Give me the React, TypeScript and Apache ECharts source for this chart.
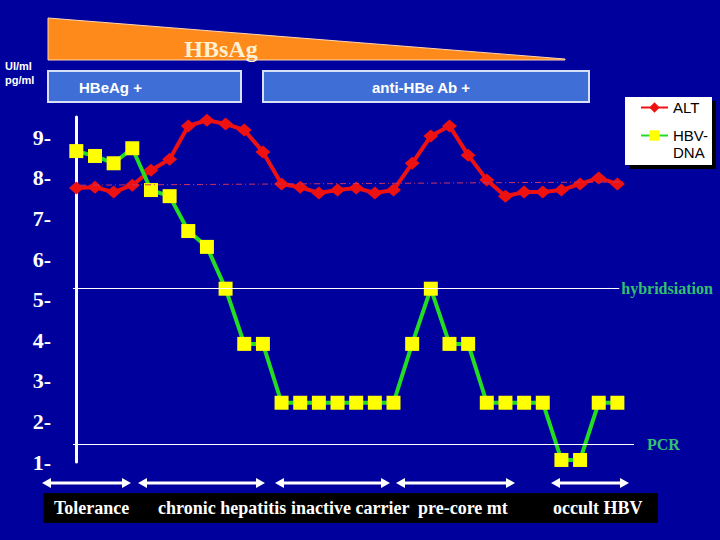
import React, { useEffect, useRef } from "react";
import * as echarts from "echarts";

// ---- data ----
const timepoints = [0, 1, 2, 3, 4, 5, 6, 7, 8, 9, 10, 11, 12, 13, 14, 15, 16, 17, 18, 19, 20, 21, 22, 23, 24, 25, 26, 27, 28, 29];
const altValues = [7.75, 7.77, 7.65, 7.82, 8.19, 8.46, 9.28, 9.42, 9.33, 9.18, 8.64, 7.85, 7.77, 7.63, 7.7, 7.75, 7.63, 7.7, 8.36, 9.03, 9.28, 8.56, 7.95, 7.55, 7.65, 7.65, 7.7, 7.85, 8.0, 7.85];
const hbvValues = [8.66, 8.54, 8.36, 8.73, 7.7, 7.55, 6.69, 6.3, 5.27, 3.91, 3.91, 2.46, 2.46, 2.46, 2.46, 2.46, 2.46, 2.46, 3.91, 5.27, 3.91, 3.91, 2.46, 2.46, 2.46, 2.46, 1.05, 1.05, 2.46, 2.46];
const seriesNames = ["ALT", "HBV-DNA"];
const hybridisationLimit = 5.27;
const pcrLimit = 1.44;
const altBaseline = [7.82, 7.9];
const phaseLabels = ["Tolerance", "chronic hepatitis", "inactive carrier", "pre-core mt", "occult HBV"];
const unitLabels = ["UI/ml", "pg/ml"];
const markerLabels = ["HBeAg +", "anti-HBe Ab +"];
const antigenLabel = "HBsAg";

const BG = "#00009c";

export default function App() {
  const ref = useRef<HTMLDivElement>(null);
  useEffect(() => {
    if (!ref.current) return;
    const chart = echarts.init(ref.current, null, { renderer: "svg" });

    const arrowSpans = [
      [42, 131],
      [138, 265],
      [275, 390],
      [396, 515],
      [551, 629],
    ];
    const phaseX = [54, 158, 291, 418, 553];
    const arrowY = 483;
    const arrows: any[] = [];
    arrowSpans.forEach(([a, b]) => {
      arrows.push({
        type: "line",
        shape: { x1: a + 6, y1: arrowY, x2: b - 6, y2: arrowY },
        style: { stroke: "#ffffff", lineWidth: 3 },
      });
      arrows.push({
        type: "polygon",
        shape: { points: [[a, arrowY], [a + 9, arrowY - 5], [a + 9, arrowY + 5]] },
        style: { fill: "#ffffff" },
      });
      arrows.push({
        type: "polygon",
        shape: { points: [[b, arrowY], [b - 9, arrowY - 5], [b - 9, arrowY + 5]] },
        style: { fill: "#ffffff" },
      });
    });

    const legendText = { color: "#000000", fontFamily: "Liberation Sans", fontSize: 15, lineHeight: 17 };

    const option: any = {
      animation: false,
      backgroundColor: BG,
      grid: { left: 67, right: 86, top: 117, bottom: 78 },
      xAxis: {
        type: "value",
        min: -0.5,
        max: 29.89,
        show: false,
      },
      yAxis: {
        type: "value",
        min: 1,
        max: 9.5,
        interval: 1,
        axisLine: { show: true, lineStyle: { color: "#ffffff", width: 3 } },
        axisTick: { show: false },
        splitLine: { show: false },
        axisLabel: {
          color: "#ffffff",
          fontFamily: "Liberation Serif",
          fontWeight: "bold",
          fontSize: 22,
          margin: 16,
          formatter: (v: number) => (v > 9 ? "" : v + "-"),
        },
      },
      legend: [
        {
          orient: "vertical",
          left: 640,
          top: 100,
          padding: 0,
          itemWidth: 27,
          itemHeight: 13,
          textStyle: { ...legendText, lineHeight: 14 },
          data: [{ name: seriesNames[0] }],
        },
        {
          orient: "vertical",
          left: 640,
          top: 110,
          padding: 0,
          itemWidth: 27,
          itemHeight: 13,
          textStyle: legendText,
          formatter: (n: string) => (n === "HBV-DNA" ? " \nHBV-\nDNA" : n),
          data: [{ name: seriesNames[1] }],
        },
      ],
      series: [
        {
          name: seriesNames[0],
          type: "line",
          data: timepoints.map((t, i) => [t, altValues[i]]),
          symbol: "diamond",
          symbolSize: [15, 13],
          clip: false,
          lineStyle: { color: "#ee1111", width: 4 },
          itemStyle: { color: "#ee1111" },
          markLine: {
            silent: true,
            symbol: ["none", "none"],
            label: { show: false },
            lineStyle: { color: "#cc3366", width: 1, type: [6, 3, 1, 3] },
            data: [
              [
                { coord: [0.2, altBaseline[0]] },
                { coord: [29.3, altBaseline[1]] },
              ],
            ],
          },
          z: 3,
        },
        {
          name: seriesNames[1],
          type: "line",
          data: timepoints.map((t, i) => [t, hbvValues[i]]),
          symbol: "rect",
          symbolSize: 14,
          clip: false,
          lineStyle: { color: "#22dd22", width: 4 },
          itemStyle: { color: "#ffff00" },
          markLine: {
            silent: true,
            symbol: ["none", "none"],
            lineStyle: { color: "#ffffff", width: 1, type: "solid" },
            label: {
              show: true,
              position: "end",
              color: "#33c070",
              fontFamily: "Liberation Serif",
              fontWeight: "bold",
              fontSize: 16,
            },
            data: [
              [
                { coord: [-0.18, hybridisationLimit], label: { formatter: "hybridsiation", distance: 2 } },
                { coord: [29.1, hybridisationLimit] },
              ],
              [
                { coord: [-0.18, pcrLimit], label: { formatter: "PCR", distance: 13 } },
                { coord: [29.89, pcrLimit] },
              ],
            ],
          },
          z: 4,
        },
      ],
      graphic: [
        {
          type: "polygon",
          shape: { points: [[48, 18], [565, 59], [565, 60], [48, 60]] },
          style: { fill: "#ff8a1c", stroke: "#ffd8b0", lineWidth: 1 },
        },
        {
          type: "text",
          x: 221,
          y: 49,
          style: {
            text: antigenLabel,
            fill: "#fff0d2",
            font: "bold 24px 'Liberation Serif'",
            align: "center",
            verticalAlign: "middle",
            textShadowColor: "#7a3a00",
            textShadowOffsetX: 1,
            textShadowOffsetY: 1,
          },
        },
        {
          type: "text",
          x: 5,
          y: 66,
          style: { text: unitLabels[0], fill: "#ffffff", font: "bold 11px 'Liberation Sans'", verticalAlign: "middle" },
        },
        {
          type: "text",
          x: 5,
          y: 80,
          style: { text: unitLabels[1], fill: "#ffffff", font: "bold 11px 'Liberation Sans'", verticalAlign: "middle" },
        },
        {
          type: "rect",
          shape: { x: 48, y: 71, width: 193, height: 31 },
          style: { fill: "#3f6fd6", stroke: "#d8e0f8", lineWidth: 2 },
        },
        {
          type: "text",
          x: 79,
          y: 87,
          style: { text: markerLabels[0], fill: "#ffffff", font: "bold 15px 'Liberation Sans'", verticalAlign: "middle" },
        },
        {
          type: "rect",
          shape: { x: 263, y: 71, width: 326, height: 31 },
          style: { fill: "#3f6fd6", stroke: "#d8e0f8", lineWidth: 2 },
        },
        {
          type: "text",
          x: 421,
          y: 87,
          style: { text: markerLabels[1], fill: "#ffffff", font: "bold 15px 'Liberation Sans'", align: "center", verticalAlign: "middle" },
        },
        // legend box with hard shadow
        {
          type: "rect",
          shape: { x: 629, y: 101, width: 87, height: 68 },
          style: { fill: "#000000" },
        },
        {
          type: "rect",
          shape: { x: 625, y: 97, width: 87, height: 68 },
          style: { fill: "#ffffff" },
        },
        ...arrows,
        {
          type: "rect",
          shape: { x: 43, y: 493, width: 615, height: 30 },
          style: { fill: "#000000" },
        },
        ...phaseLabels.map((t, i) => ({
          type: "text",
          x: phaseX[i],
          y: 508,
          style: { text: t, fill: "#ffffff", font: "bold 18px 'Liberation Serif'", verticalAlign: "middle" },
        })),
      ],
    };
    chart.setOption(option);
    return () => chart.dispose();
  }, []);
  return (
    <div
      ref={ref}
      style={{ position: "fixed", left: 0, top: 0, width: 720, height: 540 }}
    />
  );
}
